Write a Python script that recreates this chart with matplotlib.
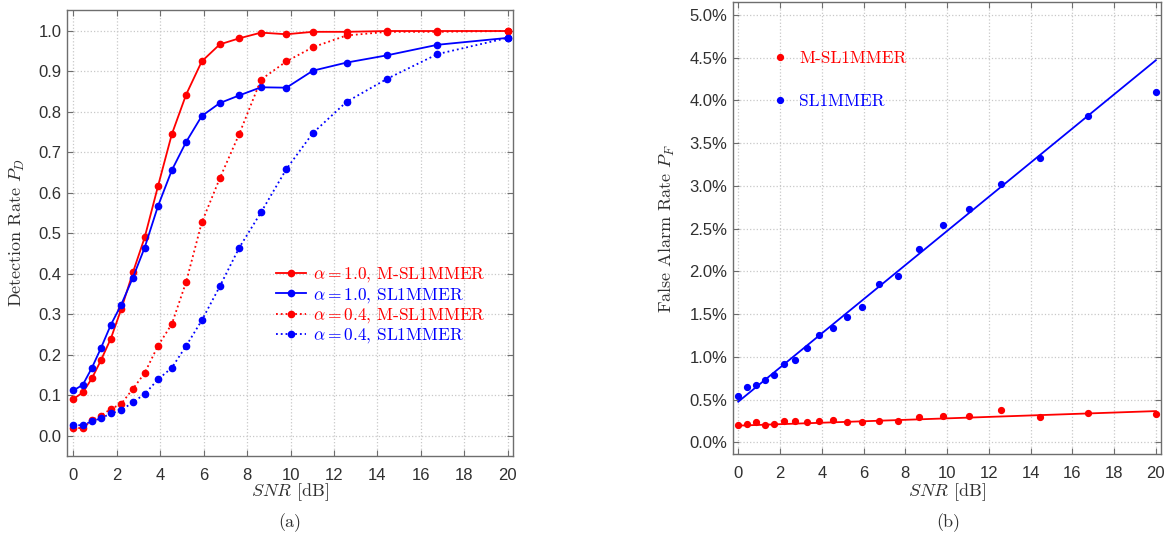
import matplotlib
matplotlib.use('Agg')
import matplotlib.pyplot as plt
from matplotlib.ticker import FuncFormatter, MultipleLocator

plt.rcParams['mathtext.fontset'] = 'cm'
plt.rcParams['axes.unicode_minus'] = False

# ---------------- data ----------------
snr = [0, 0.43, 0.85, 1.26, 1.72, 2.2, 2.74, 3.28, 3.89, 4.53, 5.19,
       5.91, 6.74, 7.64, 8.64, 9.81, 11.03, 12.58, 14.45, 16.77, 20.0]

pd_m_a10 = [0.091, 0.107, 0.142, 0.186, 0.240, 0.313, 0.404, 0.490, 0.616, 0.745, 0.843,
            0.925, 0.967, 0.982, 0.996, 0.992, 0.998, 0.998, 1.0, 1.0, 1.0]
pd_s_a10 = [0.112, 0.126, 0.168, 0.216, 0.274, 0.324, 0.391, 0.465, 0.567, 0.656, 0.726,
            0.790, 0.822, 0.841, 0.861, 0.860, 0.902, 0.922, 0.940, 0.966, 0.983]
pd_m_a04 = [0.019, 0.019, 0.039, 0.050, 0.066, 0.079, 0.116, 0.155, 0.222, 0.276, 0.380,
            0.527, 0.636, 0.746, 0.880, 0.925, 0.960, 0.989, 0.998, 0.998, 1.0]
pd_s_a04 = [0.026, 0.026, 0.036, 0.043, 0.055, 0.063, 0.083, 0.103, 0.139, 0.168, 0.222,
            0.285, 0.369, 0.465, 0.552, 0.659, 0.748, 0.825, 0.882, 0.943, 0.983]

pf_m = [0.202, 0.218, 0.234, 0.202, 0.218, 0.249, 0.249, 0.234, 0.249, 0.265, 0.234,
        0.234, 0.249, 0.249, 0.296, 0.311, 0.311, 0.374, 0.296, 0.343, 0.327]
pf_s = [0.542, 0.651, 0.667, 0.729, 0.791, 0.916, 0.963, 1.103, 1.256, 1.334, 1.470,
        1.580, 1.856, 1.950, 2.262, 2.543, 2.726, 3.022, 3.330, 3.822, 4.103]

fit_snr = [0, 20]
fit_m = [0.195, 0.365]
fit_s = [0.475, 4.47]

labels_a = [r'$\alpha = 1.0$, M-SL1MMER', r'$\alpha = 1.0$, SL1MMER',
            r'$\alpha = 0.4$, M-SL1MMER', r'$\alpha = 0.4$, SL1MMER']
labels_b = ['M-SL1MMER', 'SL1MMER']

RED = '#ff0000'
BLUE = '#0000ff'
SERIF = 'cmr10'
SANS = 'Liberation Sans'

fig = plt.figure(figsize=(11.71, 5.39), dpi=100)
ax1 = fig.add_axes([0.0572, 0.154, 0.3809, 0.8275])
ax2 = fig.add_axes([0.626, 0.1577, 0.3655, 0.8386])


def style(ax):
    for s in ax.spines.values():
        s.set_color('#6e6e6e')
        s.set_linewidth(1.0)
    ax.tick_params(direction='in', top=True, right=True, length=4, width=0.8,
                   color='#6e6e6e', labelsize=12, labelcolor='#303030')
    ax.tick_params(axis='x', pad=9)
    ax.tick_params(axis='y', pad=4)
    ax.grid(True, linestyle=':', color='#c8c8c8', linewidth=0.9)
    ax.set_axisbelow(True)
    for lab in ax.get_xticklabels() + ax.get_yticklabels():
        lab.set_family(SANS)


mk = dict(marker='o', markersize=4.5)
ax1.plot(snr, pd_m_a10, '-', color=RED, lw=1.3, label=labels_a[0], **mk)
ax1.plot(snr, pd_s_a10, '-', color=BLUE, lw=1.3, label=labels_a[1], **mk)
ax1.plot(snr, pd_m_a04, ':', color=RED, lw=1.3, label=labels_a[2], **mk)
ax1.plot(snr, pd_s_a04, ':', color=BLUE, lw=1.3, label=labels_a[3], **mk)
ax1.set_xlim(-0.3, 20.25)
ax1.set_ylim(-0.05, 1.052)
ax1.xaxis.set_major_locator(MultipleLocator(2))
ax1.yaxis.set_major_locator(MultipleLocator(0.1))
ax1.yaxis.set_major_formatter(FuncFormatter(lambda v, p: f'{v:.1f}'))
style(ax1)
ax1.set_ylabel(r'Detection Rate $P_D$', family=SERIF, fontsize=13, color='#303030', va='center')
ax1.yaxis.set_label_coords(-0.110, 0.5)
ax1.set_xlabel(r'$SNR$ [dB]', family=SERIF, fontsize=13, color='#303030', va='center')
ax1.xaxis.set_label_coords(0.5, -0.081)
leg1 = ax1.legend(loc='upper left', bbox_to_anchor=(0.468, 0.427), frameon=False,
                  prop={'family': SERIF, 'size': 12.5}, handlelength=1.75, handletextpad=0.4,
                  labelspacing=0.08, borderpad=0, borderaxespad=0, labelcolor='linecolor')

ax2.plot(snr, pf_m, 'o', color=RED, markersize=4.2, label=labels_b[0])
ax2.plot(snr, pf_s, 'o', color=BLUE, markersize=4.2, label=labels_b[1])
ax2.plot(fit_snr, fit_m, '-', color=RED, lw=1.3)
ax2.plot(fit_snr, fit_s, '-', color=BLUE, lw=1.3)
ax2.set_xlim(-0.25, 20.25)
ax2.set_ylim(-0.137, 5.152)
ax2.xaxis.set_major_locator(MultipleLocator(2))
ax2.yaxis.set_major_locator(MultipleLocator(0.5))
ax2.yaxis.set_major_formatter(FuncFormatter(lambda v, p: f'{v:.1f}%'))
style(ax2)
ax2.set_ylabel(r'False Alarm Rate $P_F$', family=SERIF, fontsize=13, color='#303030', va='center')
ax2.yaxis.set_label_coords(-0.154, 0.5)
ax2.set_xlabel(r'$SNR$ [dB]', family=SERIF, fontsize=13, color='#303030', va='center')
ax2.xaxis.set_label_coords(0.5, -0.084)
leg2 = ax2.legend(loc='upper left', bbox_to_anchor=(0.09, 0.893), frameon=False,
                  prop={'family': SERIF, 'size': 12.5}, handlelength=1.0, handletextpad=0.6,
                  labelspacing=1.6, borderpad=0, borderaxespad=0, labelcolor='linecolor',
                  numpoints=1)

fig.text(290 / 1171, 1 - 523 / 539, '(a)', family=SERIF, fontsize=13, ha='center', va='center', color='#303030')
fig.text(948 / 1171, 1 - 523 / 539, '(b)', family=SERIF, fontsize=13, ha='center', va='center', color='#303030')

fig.savefig('out.png', dpi=100)
